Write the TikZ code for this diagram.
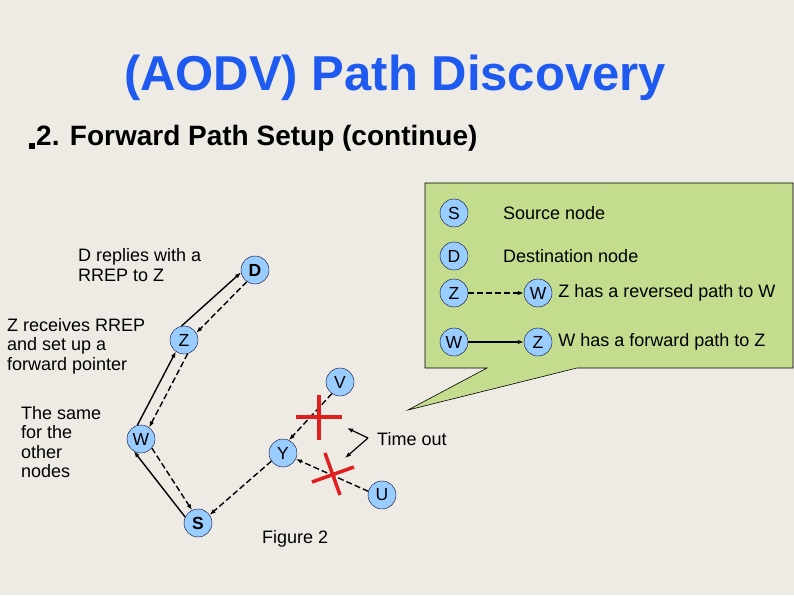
\documentclass[tikz,border=0pt]{standalone}
\usepackage{fontspec}
\setmainfont{Liberation Sans}
\usepackage{tikz}
\usetikzlibrary{positioning,arrows.meta}
\definecolor{slidebg}{HTML}{EEEBE4}
\definecolor{titleblue}{HTML}{1F5AF0}
\definecolor{nodeblue}{HTML}{99CCFF}
\definecolor{calloutgreen}{HTML}{C3DC8E}
\definecolor{crossred}{HTML}{E01E1E}

\begin{document}
\begin{tikzpicture}[
  x=1pt, y=1pt,
  mnode/.style={circle, draw=black!80!blue, fill=nodeblue, minimum size=28pt, inner sep=0pt, font=\fontsize{17.5}{19.5}\selectfont},
  txt/.style={anchor=west, align=left, inner sep=0pt, font=\fontsize{18}{19.5}\selectfont},
  fwd/.style={-{Latex[length=6pt,width=4.5pt]}, line width=1.4pt},
  rev/.style={-{Latex[length=6pt,width=4.5pt]}, line width=1.4pt, dash pattern=on 6pt off 3pt},
  cross/.style={crossred, line width=3.5pt}
]
\useasboundingbox (0,0) rectangle (794,595);
\fill[slidebg] (0,0) rectangle (794,595);

\node[font=\fontsize{49}{54}\selectfont\bfseries, text=titleblue] (title) at (395,517) {(AODV) Path Discovery};
\fill (29,446) rectangle (35,452);
\node[txt, font=\fontsize{28}{32}\selectfont\bfseries] (sub) at (36,457) {2. Forward Path Setup (continue)};

\fill[calloutgreen, draw=black, line width=0.6pt] (425,412) -- (793,412) -- (793,227) -- (577,227) -- (408,185) -- (487,227) -- (425,227) -- cycle;

\node[mnode] (lS) at (454,382) {S};
\node[mnode] (lD) at (454,339) {D};
\node[mnode] (lZ) at (454,302) {Z};
\node[mnode] (lW) at (454,253) {W};
\node[mnode] (lW2) at (538,302) {W};
\node[mnode] (lZ2) at (538,253) {Z};
\node[txt] (srcnode) at (503,382) {Source node};
\node[txt] (dstnode) at (503,339) {Destination node};
\node[txt, right=6pt of lW2] (revtxt) {Z has a reversed path to W};
\node[txt, right=6pt of lZ2] (fwdtxt) {W has a forward path to Z};
\draw[rev] (lZ) -- (lW2);
\draw[fwd] (lW) -- (lZ2);

\node[mnode, font=\fontsize{17.5}{19.5}\selectfont\bfseries] (D) at (255,325) {D};
\node[mnode] (Z) at (184,255) {Z};
\node[mnode] (W) at (141,156) {W};
\node[mnode, font=\fontsize{17.5}{19.5}\selectfont\bfseries] (S) at (198,72) {S};
\node[mnode] (Y) at (283,142) {Y};
\node[mnode] (V) at (340,213) {V};
\node[mnode] (U) at (382,100) {U};

\draw[fwd] (Z.100) -- (D.190);
\draw[rev] (D.235) -- (Z.30);
\draw[fwd] (W.105) -- (Z.235);
\draw[rev] (Z.285) -- (W.55);
\draw[fwd] (S.155) -- (W.240);
\draw[rev] (W.-40) -- (S.115);
\draw[rev] (Y.215) -- (S.35);
\draw[rev] (V.235) -- (Y.65);
\draw[rev] (U.165) -- (Y.-25);

\draw[cross] (319,200) -- (319,155);
\draw[cross] (296,178) -- (342,178);
\draw[cross] (325,142) -- (340,100);
\draw[cross] (312,113) -- (354,128);

\coordinate (tv) at (368,157);
\draw[fwd, line width=1.2pt] (tv) -- (347,167);
\draw[fwd, line width=1.2pt] (tv) -- (345,137);
\node[txt] (timeout) at (377,156) {Time out};

\node[txt] (dtxt) at (78,330) {D replies with a\\RREP to Z};
\node[txt] (ztxt) at (7,249) {Z receives RREP\\and set up a\\forward pointer};
\node[txt] (wtxt) at (21,153) {The same\\for the\\other\\nodes};
\node[txt] (fig) at (262,56) {Figure 2};
\end{tikzpicture}
\end{document}
